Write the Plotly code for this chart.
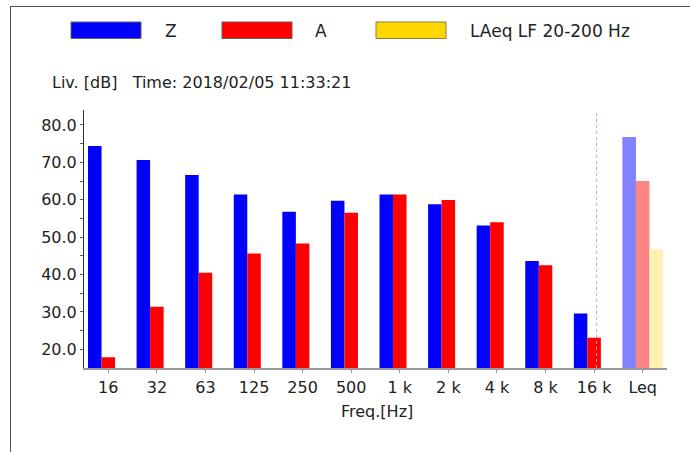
import plotly.graph_objects as go

categories = ["16", "32", "63", "125", "250", "500", "1 k", "2 k", "4 k", "8 k", "16 k", "Leq"]
z_values = [74.4, 70.6, 66.6, 61.4, 56.8, 59.7, 61.4, 58.8, 53.1, 43.6, 29.6, 76.8]
a_values = [17.9, 31.4, 40.5, 45.6, 48.3, 56.5, 61.4, 59.9, 54.0, 42.5, 23.1, 65.0]
lf_values = [None] * 11 + [46.7]
y_ticks = [20, 30, 40, 50, 60, 70, 80]

W, H = 690, 452
L, R, T, B = 84, 23, 110, 84
PW, PH = W - L - R, H - T - B

def px(x):
    return (x - L) / PW

def py(y):
    return (H - B - y) / PH

FONT = "DejaVu Sans"
TXT = "#222222"
n = len(categories)

def last_only(normal, last):
    return [normal] * (n - 1) + [last]

fig = go.Figure()
fig.add_trace(go.Bar(
    x=categories, y=z_values, name="Z",
    marker=dict(color=last_only("#0000ff", "#8282ff"), line=dict(width=0)),
))
fig.add_trace(go.Bar(
    x=categories, y=a_values, name="A",
    marker=dict(color=last_only("#ff0000", "#ff8484"), line=dict(width=0)),
))
fig.add_trace(go.Bar(
    x=categories, y=lf_values, name="LAeq LF 20-200 Hz",
    marker=dict(color="#fff1b0", line=dict(width=0)),
))

shapes = []
# outer frame (top and left)
shapes.append(dict(type="line", xref="paper", yref="paper", x0=px(10.5), x1=px(690), y0=py(6.5), y1=py(6.5),
                   line=dict(color="#505050", width=1)))
shapes.append(dict(type="line", xref="paper", yref="paper", x0=px(10.5), x1=px(10.5), y0=py(6.5), y1=py(452),
                   line=dict(color="#505050", width=1)))
# pink dotted separator
shapes.append(dict(type="line", xref="x", yref="paper", x0=10.05, x1=10.05, y0=0, y1=1,
                   line=dict(color="#ff8fc0", width=1, dash="dot")))
# legend swatches
for x0, col, border in [(71, "#0000ff", "#606060"), (222, "#ff0000", "#606060"), (376, "#ffd700", "#808040")]:
    shapes.append(dict(type="rect", xref="paper", yref="paper", x0=px(x0), x1=px(x0 + 70), y0=py(22), y1=py(38.5),
                       fillcolor=col, line=dict(color=border, width=1)))

annotations = []
for x0, txt in [(163, "Z"), (313, "A"), (468, "LAeq LF 20-200 Hz")]:
    annotations.append(dict(xref="paper", yref="paper", x=px(x0), y=py(31), text=txt, showarrow=False,
                            xanchor="left", yanchor="middle", font=dict(family=FONT, size=17, color=TXT)))
annotations.append(dict(xref="paper", yref="paper", x=px(50), y=py(82), text="Liv. [dB]   Time: 2018/02/05 11:33:21",
                        showarrow=False, xanchor="left", yanchor="middle",
                        font=dict(family=FONT, size=16, color=TXT)))
annotations.append(dict(xref="paper", yref="paper", x=px(377), y=py(411), text="Freq.[Hz]",
                        showarrow=False, xanchor="center", yanchor="middle",
                        font=dict(family=FONT, size=16, color=TXT)))

fig.update_layout(
    width=W, height=H,
    margin=dict(l=L, r=R, t=T, b=B, pad=0),
    paper_bgcolor="white", plot_bgcolor="white",
    barmode="group", bargap=0.165, bargroupgap=0,
    showlegend=False,
    font=dict(family=FONT, size=16, color=TXT),
    shapes=shapes, annotations=annotations,
    xaxis=dict(
        type="category", showline=True, linecolor="#999999", linewidth=1.5,
        ticks="outside", ticklen=3, tickcolor="#999999", showgrid=False, zeroline=False,
        tickfont=dict(family=FONT, size=16, color=TXT), ticklabelstandoff=1,
    ),
    yaxis=dict(
        range=[15, 84], tickvals=y_ticks, ticktext=[f"{v:.1f}" for v in y_ticks],
        showline=True, linecolor="#333333", linewidth=1,
        ticks="outside", ticklen=3, tickcolor="#555555", showgrid=False, zeroline=False,
        tickfont=dict(family=FONT, size=16, color=TXT),
        minor=dict(tickvals=[25, 35, 45, 55, 65, 75], ticks="outside", ticklen=3, tickcolor="#555555", showgrid=False),
    ),
)

fig.write_html("out.html", config={"displayModeBar": False},
               post_script="document.body.style.margin='0';document.body.style.overflow='hidden';")
